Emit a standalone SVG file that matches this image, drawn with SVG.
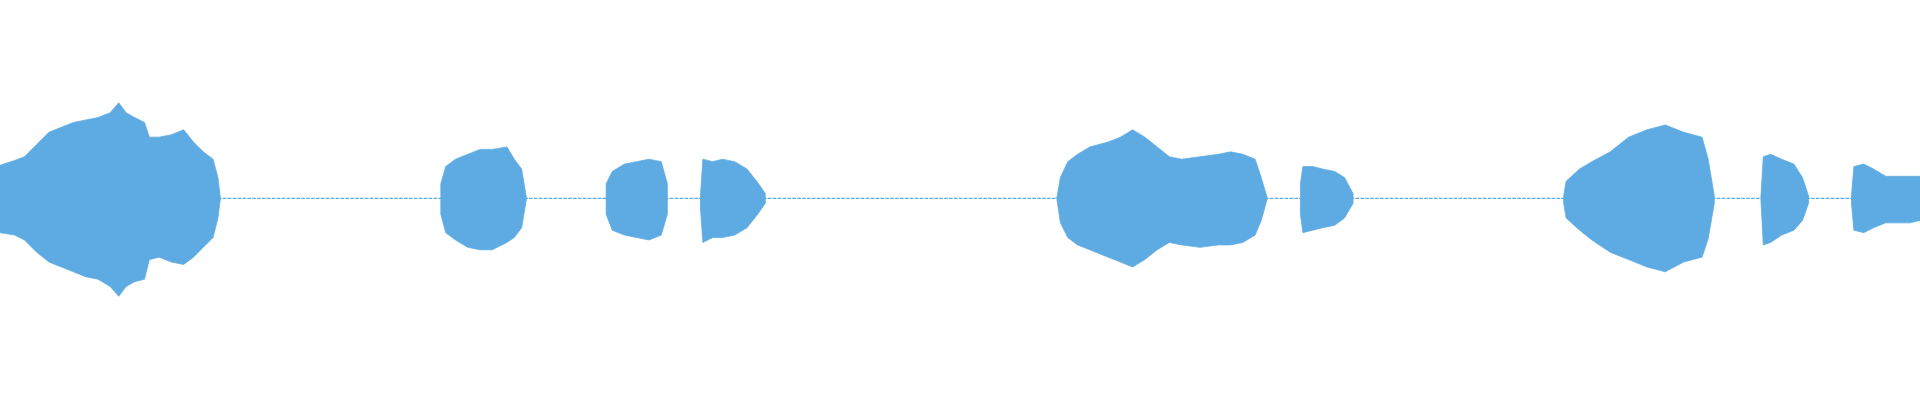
<svg xmlns="http://www.w3.org/2000/svg" width="1920" height="400" viewBox="0 0 1920 400">
<style>.w{fill:#5DABE2;stroke:#5DABE2;stroke-width:0.6}.f{stroke:#5DABE2;stroke-width:1.2;stroke-dasharray:3 1}</style>
<rect width="1920" height="400" fill="#fff"/>
<g transform="scale(1.2245)">
<g class="f">
<line x1="178" y1="162" x2="362" y2="162"/>
<line x1="428" y1="162" x2="497" y2="162"/>
<line x1="543" y1="162" x2="574" y2="162"/>
<line x1="623" y1="162" x2="865" y2="162"/>
<line x1="1033" y1="162" x2="1064" y2="162"/>
<line x1="1103" y1="162" x2="1279" y2="162"/>
<line x1="1398" y1="162" x2="1440" y2="162"/>
<line x1="1475" y1="162" x2="1514" y2="162"/>
</g>
<polygon class="w" points="0,135 12,131 20,128 30,118 40,108 50,104 60,100 70,98 80,96 90,92 97,84 103,92 110,96 118,100 122,112 130,112 140,110 150,106 158,116 166,124 174,130 178,145 180,162 178,178 174,194 166,202 158,210 150,216 140,214 130,210 122,212 118,228 110,230 103,234 97,242 90,234 80,228 70,226 60,222 50,218 40,214 30,206 20,196 12,192 0,190"/>
<polygon class="w" points="360,150 364,136 372,130 382,126 392,122 402,122 414,120 420,130 426,138 430,162 426,186 420,194 414,198 402,204 392,204 382,202 372,196 364,190 360,175"/>
<polygon class="w" points="495,150 500,140 510,134 520,132 530,130 540,132 545,150 545,175 540,192 530,196 520,194 510,192 500,188 495,175"/>
<polygon class="w" points="572,160 574,130 582,132 590,130 600,132 610,138 618,148 625,158 625,166 618,176 610,186 600,192 590,194 582,194 574,198 572,170"/>
<polygon class="w" points="863,162 866,145 872,132 880,126 890,120 905,116 915,112 925,106 935,112 945,120 955,128 965,130 980,128 995,126 1005,124 1015,126 1025,130 1030,145 1035,162 1030,180 1025,192 1015,198 1005,200 995,200 980,202 965,200 955,198 945,204 935,212 925,218 915,214 905,210 890,204 880,200 872,194 866,182"/>
<polygon class="w" points="1062,150 1064,136 1072,136 1080,138 1090,140 1098,145 1105,158 1105,166 1098,178 1090,184 1080,186 1072,188 1064,190 1062,175"/>
<polygon class="w" points="1277,160 1279,148 1290,138 1300,132 1315,124 1330,112 1345,106 1360,102 1375,108 1390,112 1395,130 1400,160 1400,166 1395,195 1390,210 1375,214 1360,222 1345,218 1330,212 1315,206 1300,196 1290,188 1279,178 1277,166"/>
<polygon class="w" points="1438,162 1440,128 1446,126 1455,130 1465,134 1472,145 1477,160 1477,166 1472,180 1465,188 1455,192 1446,198 1440,200"/>
<polygon class="w" points="1512,160 1514,136 1522,134 1530,138 1540,144 1550,144 1560,144 1568,144 1568,180 1560,182 1550,182 1540,182 1530,186 1522,190 1514,188 1512,166"/>
</g>
</svg>
